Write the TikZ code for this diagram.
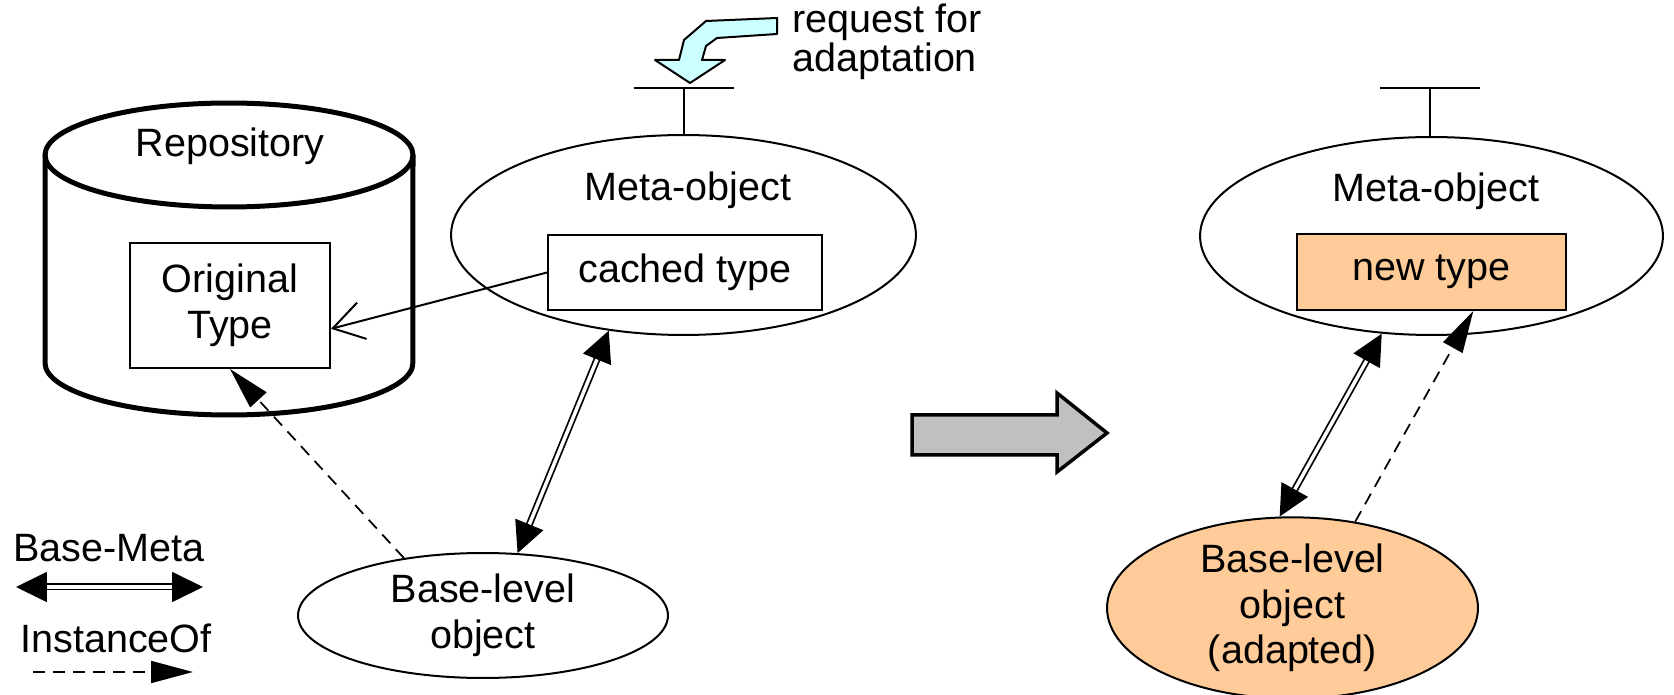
\documentclass[tikz,border=0pt]{standalone}
\usepackage{fontspec}
\setmainfont{Liberation Sans}
\usepackage{xcolor}
\usetikzlibrary{arrows.meta, shapes.geometric}
\definecolor{peach}{HTML}{FFCC99}
\definecolor{paleCyan}{HTML}{CCFFFF}
\definecolor{arrowGray}{HTML}{C0C0C0}

\begin{document}
\begin{tikzpicture}[
        x=0.02cm, y=-0.02cm,
        font=\fontsize{22.5}{26}\selectfont,
        % Node styles
        obj/.style={ellipse, draw=black, line width=0.04cm, inner sep=0pt},
        typebox/.style={rectangle, draw=black, line width=0.04cm, inner sep=0pt},
        txt/.style={inner sep=0pt, anchor=base},
        % Line styles
        repo/.style={line width=0.1cm, line join=round},
        tbar/.style={line width=0.04cm},
        basemeta/.style={double, line width=0.035cm, double distance=0.07cm,
                        arrows={Triangle[length=0.62cm, width=0.6cm]-Triangle[length=0.62cm, width=0.6cm]}},
        instof/.style={line width=0.035cm, dash pattern=on 0.24cm off 0.16cm,
                        arrows={-Triangle[length=0.84cm, width=0.44cm]}},
        cachearrow/.style={line width=0.04cm, arrows={-Straight Barb[length=0.6cm, width=0.75cm]}}
    ]
        \useasboundingbox (0,0) rectangle (1674,695);

        % Repository with the original type
        \draw[repo] (229,155) ellipse [x radius=3.68cm, y radius=1.04cm];
        \draw[repo] (45,155) -- (45,363) arc[start angle=180, end angle=360, x radius=3.68cm, y radius=1.04cm] -- (413,155);
        \node[txt] (repotxt) at (230,157) {Repository};
        \node[typebox, minimum width=4cm, minimum height=2.5cm, align=center] (orig) at (230,305.5) {Original\\Type};

        % Meta-object before adaptation
        \node[obj, minimum width=9.3cm, minimum height=4cm] (meta1) at (683.5,235) {};
        \node[txt] (meta1txt) at (688,201) {Meta-object};
        \node[typebox, minimum width=5.48cm, minimum height=1.5cm] (cached) at (685,272.5) {cached type};
        \coordinate (port1) at (683.5,88);
        \draw[tbar] (meta1.north) -- (port1);
        \draw[tbar] (port1) ++(-50,0) -- ++(100,0);

        % Request for adaptation
        \draw[line width=0.04cm, line join=round, fill=paleCyan] (777,18) -- (706,21) -- (684,40) -- (679,60) -- (655,60)
            -- (690,83) -- (725,60) -- (702,60) -- (706,46) -- (717,38) -- (777,34) -- cycle;
        \node[txt, anchor=base west] (reqtxt) at (792,33) {request for};
        \node[txt, anchor=base west] (adapttxt) at (792,72) {adaptation};

        % Base-level object
        \node[obj, minimum width=7.4cm, minimum height=2.5cm, align=center] (base1) at (483,615.5) {Base-level\\object};

        % Transition
        \draw[line width=0.07cm, fill=arrowGray] (912,415) -- (1057,415) -- (1057,393) -- (1107,433)
            -- (1057,472) -- (1057,455) -- (912,455) -- cycle;

        % Meta-object after adaptation
        \node[obj, minimum width=9.26cm, minimum height=3.96cm] (meta2) at (1431.5,236) {};
        \node[txt] (meta2txt) at (1436,202) {Meta-object};
        \node[typebox, fill=peach, minimum width=5.38cm, minimum height=1.52cm] (newtype) at (1431.5,272) {new type};
        \coordinate (port2) at (1430,88);
        \draw[tbar] (meta2.north -| port2) -- (port2);
        \draw[tbar] (port2) ++(-50,0) -- ++(100,0);

        \node[obj, fill=peach, minimum width=7.42cm, minimum height=3.44cm, align=center] (base2) at (1292.5,608) {Base-level\\object\\(adapted)};

        % Connectors
        \draw[cachearrow] (cached.west) -- (orig.-13);
        \draw[basemeta] (base1.61) -- (meta1.232);
        \draw[instof] (base1.144) -- (orig.south);
        \draw[basemeta] (base2.98) -- (meta2.243);
        \draw[instof] (base2.54) -- (newtype.-43);

        % Legend
        \node[txt] (bmtxt) at (109,562) {Base-Meta};
        \coordinate (bmL) at (16,587);
        \coordinate (bmR) at (203,587);
        \draw[basemeta] (bmL) -- (bmR);
        \node[txt] (iotxt) at (116,653) {InstanceOf};
        \coordinate (ioL) at (33,672);
        \coordinate (ioR) at (193,672);
        \draw[instof] (ioL) -- (ioR);
    \end{tikzpicture}
\end{document}
